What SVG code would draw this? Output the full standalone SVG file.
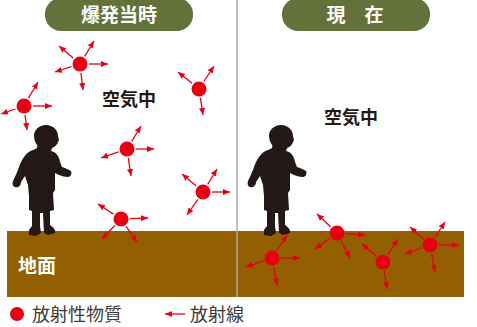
<svg xmlns="http://www.w3.org/2000/svg" width="477" height="327" viewBox="0 0 477 327">
  <style>
    .pill { fill: #62723a; }
    .pill-text { font-family: "Noto Sans CJK JP", "Noto Sans", sans-serif; font-weight: bold; font-size: 19px; fill: #ffffff; text-anchor: middle; }
    .label { font-family: "Noto Sans CJK JP", "Noto Sans", sans-serif; font-weight: bold; font-size: 18px; fill: #231815; }
    .ground-label { font-family: "Noto Sans CJK JP", "Noto Sans", sans-serif; font-weight: bold; font-size: 19px; fill: #ffffff; }
    .legend { font-family: "Noto Sans CJK JP", "Noto Sans", sans-serif; font-size: 18px; fill: #3e3a39; }
    .particle { fill: #e60012; }
    .ray { stroke: #e60012; stroke-width: 1.3; fill: none; marker-end: url(#head); }
    .child { fill: #231815; }
  </style>
  <defs>
    <marker id="head" markerUnits="userSpaceOnUse" markerWidth="8" markerHeight="7" refX="7" refY="3" orient="auto">
      <path d="M0,0 L7,3 L0,6 Z" fill="#e60012"/>
    </marker>
    <!-- standing child, facing right -->
    <path id="child-shape" class="child" d="M46 125 C53 125 58 130 58 136 L59 140 L58 142 C57 145 55 147 52 148 L51 151 C56 152 59 156 60 162 L62 167 C65 168 68 169 71 171 C72 173 71 177 68 177 C65 177 62 176 59 175 L55 173 L55 190 L53 193 L54 210 L50 211 L50 225 C53 227 56 230 55 233 L48 235 L44 233 L43 213 L40 213 L40 226 L41 233 L36 236 L29 235 L29 230 L32 226 L32 211 L29 210 L29 196 L28 185 L25 176 L21 182 C21 186 18 188 15 187 C12 186 12 182 14 179 L18 170 C21 160 26 152 33 150 C37 149 38 147 37 145 C35 142 34 139 34 136 C34 130 39 125 46 125 Z"/>
  </defs>

  <rect width="477" height="327" fill="#ffffff"/>

  <!-- ground -->
  <g id="ground">
    <rect x="7" y="231" width="457" height="66" fill="#935f00"/>
    <text class="ground-label" x="18" y="273">地面</text>
  </g>

  <!-- panel divider -->
  <line x1="237" y1="0" x2="237" y2="297" stroke="#a9a9a9" stroke-width="1.5"/>

  <!-- headers -->
  <g id="header-left">
    <rect class="pill" x="45" y="-2" width="148" height="33" rx="16"/>
    <text class="pill-text" x="119" y="22">爆発当時</text>
  </g>
  <g id="header-right">
    <rect class="pill" x="282" y="-2" width="148" height="33" rx="16"/>
    <text class="pill-text" x="355" y="22">現　在</text>
  </g>

  <g id="air-left"><text class="label" x="102" y="106">空気中</text></g>
  <g id="air-right"><text class="label" x="324" y="124">空気中</text></g>

  <!-- children -->
  <g id="child-left"><use href="#child-shape"/></g>
  <g id="child-right"><use href="#child-shape" transform="translate(235,0)"/></g>

  <!-- radioactive particles with rays -->
  <g id="connectors">
    <g id="rays-a">
      <line class="ray" x1="73.2" y1="58.1" x2="59" y2="46"/>
      <line class="ray" x1="84.7" y1="56.3" x2="94" y2="41"/>
      <line class="ray" x1="89" y1="64" x2="108" y2="64"/>
      <line class="ray" x1="71.4" y1="66.7" x2="55" y2="72"/>
      <line class="ray" x1="81" y1="72.9" x2="83" y2="90"/>
    </g>
    <g id="rays-b">
      <line class="ray" x1="28.5" y1="98.2" x2="38" y2="82"/>
      <line class="ray" x1="33" y1="106" x2="52" y2="106"/>
      <line class="ray" x1="15.5" y1="109" x2="1" y2="114"/>
      <line class="ray" x1="25.1" y1="114.9" x2="27" y2="130"/>
    </g>
    <g id="rays-c">
      <line class="ray" x1="192" y1="83.3" x2="178" y2="72"/>
      <line class="ray" x1="203.9" y1="81.5" x2="214" y2="66"/>
      <line class="ray" x1="200.4" y1="97.9" x2="203" y2="115"/>
    </g>
    <g id="rays-d">
      <line class="ray" x1="131.7" y1="141.3" x2="141" y2="126"/>
      <line class="ray" x1="136" y1="149" x2="154" y2="149"/>
      <line class="ray" x1="118.5" y1="151.9" x2="101" y2="158"/>
      <line class="ray" x1="128.3" y1="157.9" x2="131" y2="176"/>
    </g>
    <g id="rays-e">
      <line class="ray" x1="196.2" y1="186.1" x2="182" y2="174"/>
      <line class="ray" x1="207.7" y1="184.3" x2="217" y2="169"/>
      <line class="ray" x1="212" y1="192" x2="230" y2="192"/>
      <line class="ray" x1="197.9" y1="199.4" x2="187" y2="215"/>
    </g>
    <g id="rays-f">
      <line class="ray" x1="113.5" y1="214.1" x2="98" y2="204"/>
      <line class="ray" x1="130" y1="218.7" x2="148" y2="218"/>
      <line class="ray" x1="114.8" y1="225.5" x2="102" y2="239"/>
      <line class="ray" x1="126.1" y1="226.4" x2="137" y2="242"/>
    </g>
    <g id="rays-g">
      <line class="ray" x1="276.9" y1="250.5" x2="287" y2="235"/>
      <line class="ray" x1="281" y1="258" x2="300" y2="258"/>
      <line class="ray" x1="263.5" y1="260.9" x2="246" y2="267"/>
      <line class="ray" x1="273.6" y1="266.8" x2="277" y2="285"/>
    </g>
    <g id="rays-h">
      <line class="ray" x1="330.5" y1="226.8" x2="317" y2="214"/>
      <line class="ray" x1="346" y1="233.6" x2="365" y2="235"/>
      <line class="ray" x1="329.7" y1="238.3" x2="315" y2="249"/>
      <line class="ray" x1="341.1" y1="241" x2="350" y2="258"/>
    </g>
    <g id="rays-i">
      <line class="ray" x1="376.2" y1="256.1" x2="362" y2="244"/>
      <line class="ray" x1="387.9" y1="254.5" x2="398" y2="239"/>
      <line class="ray" x1="384.3" y1="270.9" x2="387" y2="289"/>
    </g>
    <g id="rays-j">
      <line class="ray" x1="423.3" y1="239" x2="410" y2="227"/>
      <line class="ray" x1="434.9" y1="237.5" x2="445" y2="222"/>
      <line class="ray" x1="439" y1="245" x2="459" y2="245"/>
      <line class="ray" x1="421.5" y1="248" x2="405" y2="254"/>
      <line class="ray" x1="431.6" y1="253.8" x2="435" y2="272"/>
    </g>
  </g>

  <g id="particle-a"><circle class="particle" cx="80" cy="64" r="7.5"/></g>
  <g id="particle-b"><circle class="particle" cx="24" cy="106" r="7.5"/></g>
  <g id="particle-c"><circle class="particle" cx="199" cy="89" r="7.5"/></g>
  <g id="particle-d"><circle class="particle" cx="127" cy="149" r="7.5"/></g>
  <g id="particle-e"><circle class="particle" cx="203" cy="192" r="7.5"/></g>
  <g id="particle-f"><circle class="particle" cx="121" cy="219" r="7.5"/></g>
  <g id="particle-g"><circle class="particle" cx="272" cy="258" r="7.5"/></g>
  <g id="particle-h"><circle class="particle" cx="337" cy="233" r="7.5"/></g>
  <g id="particle-i"><circle class="particle" cx="383" cy="262" r="7.5"/></g>
  <g id="particle-j"><circle class="particle" cx="430" cy="245" r="7.5"/></g>

  <!-- legend -->
  <g id="legend">
    <circle class="particle" cx="17" cy="314" r="7"/>
    <text class="legend" x="32" y="321">放射性物質</text>
    <line class="ray" x1="185" y1="314" x2="165" y2="314"/>
    <text class="legend" x="190" y="321">放射線</text>
  </g>
</svg>
